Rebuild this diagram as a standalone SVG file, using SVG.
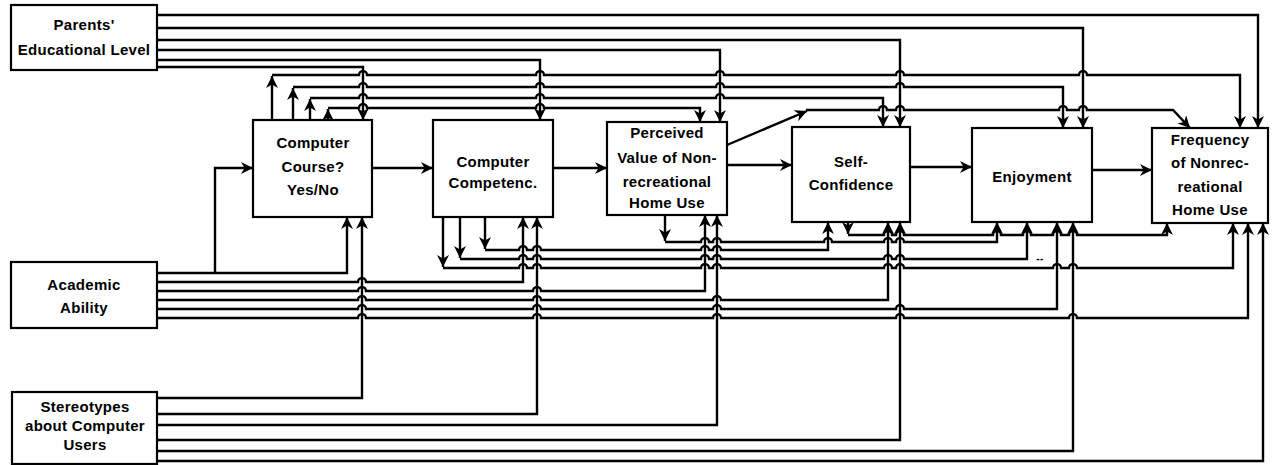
<svg xmlns="http://www.w3.org/2000/svg" width="1275" height="465" viewBox="0 0 1275 465">
<style>
.box{fill:#fff;stroke:#000;stroke-width:2.2}
.t{font-family:"Liberation Sans",Arial,sans-serif;font-size:15px;font-weight:bold;letter-spacing:0.3px;text-anchor:middle;fill:#000}
.c{fill:none;stroke:#000;stroke-width:2.4;stroke-linejoin:miter}
.a{marker-end:url(#ah)}
</style>
<defs>
<marker id="ah" markerUnits="userSpaceOnUse" markerWidth="12" markerHeight="12" refX="10" refY="5" orient="auto" viewBox="0 0 10 10">
<path d="M0,0 L10,5 L0,10 L3,5 z" fill="#000"/>
</marker>
</defs>
<rect width="1275" height="465" fill="#fff"/>
<g id="connectors">
<!-- main chain -->
<path class="c a" d="M372,168 L433,168"/>
<path class="c a" d="M553,168 L607,168"/>
<path class="c a" d="M727,165 L792,165"/>
<path class="c a" d="M910,167 L972,167"/>
<path class="c a" d="M1092,170 L1152,170"/>
<!-- parents -->
<path class="c a" d="M157,15 L1258,15 L1258,128"/>
<path class="c a" d="M157,28 L1083,28 L1083,128"/>
<path class="c a" d="M157,40 L900,40 L900,127"/>
<path class="c a" d="M157,50 L720,50 L720,122"/>
<path class="c a" d="M157,60 L540,60 L540,120"/>
<path class="c a" d="M157,67 L363,67 L363,120"/>
<!-- computer course over the top -->
<path class="c a" d="M272,120 L272,76"/>
<path class="c a" d="M272,75 L359,75 A4,4 0 0 1 367,75 L536,75 A4,4 0 0 1 544,75 L716,75 A4,4 0 0 1 724,75 L896,75 A4,4 0 0 1 904,75 L1079,75 A4,4 0 0 1 1087,75 L1240,75 L1240,128"/>
<path class="c a" d="M293,120 L293,88"/>
<path class="c a" d="M293,87 L359,87 A4,4 0 0 1 367,87 L536,87 A4,4 0 0 1 544,87 L716,87 A4,4 0 0 1 724,87 L896,87 A4,4 0 0 1 904,87 L1063,87 L1063,128"/>
<path class="c a" d="M310,120 L310,99"/>
<path class="c a" d="M310,98 L359,98 A4,4 0 0 1 367,98 L536,98 A4,4 0 0 1 544,98 L716,98 A4,4 0 0 1 724,98 L883,98 L883,127"/>
<path class="c a" d="M328,120 L328,109"/>
<path class="c a" d="M328,108 L359,108 A4,4 0 0 1 367,108 L536,108 A4,4 0 0 1 544,108 L700,108 L700,122"/>
<!-- perceived value to frequency over the top -->
<path class="c a" d="M727,145 L807,111"/>
<path class="c a" d="M806,110 L879,110 A4,4 0 0 1 887,110 L896,110 A4,4 0 0 1 904,110 L1059,110 A4,4 0 0 1 1067,110 L1079,110 A4,4 0 0 1 1087,110 L1173,110 L1190,128"/>
<!-- academic ability -->
<path class="c a" d="M157,273 L347,273 L347,217"/>
<path class="c a" d="M215,273 L215,168 L253,168"/>
<path class="c a" d="M157,282 L358,282 A4,4 0 0 1 366,282 L523,282 L523,217"/>
<path class="c a" d="M157,291 L358,291 A4,4 0 0 1 366,291 L533,291 A4,4 0 0 1 541,291 L705,291 L705,215"/>
<path class="c a" d="M157,300 L358,300 A4,4 0 0 1 366,300 L533,300 A4,4 0 0 1 541,300 L713,300 A4,4 0 0 1 721,300 L888,300 L888,222"/>
<path class="c a" d="M157,309 L358,309 A4,4 0 0 1 366,309 L533,309 A4,4 0 0 1 541,309 L713,309 A4,4 0 0 1 721,309 L896,309 A4,4 0 0 1 904,309 L1057,309 L1057,222"/>
<path class="c a" d="M157,318 L358,318 A4,4 0 0 1 366,318 L533,318 A4,4 0 0 1 541,318 L713,318 A4,4 0 0 1 721,318 L896,318 A4,4 0 0 1 904,318 L1069,318 A4,4 0 0 1 1077,318 L1248,318 L1248,223"/>
<!-- computer competence under -->
<path class="c a" d="M443,217 L443,267"/>
<path class="c a" d="M443,268 L519,268 A4,4 0 0 1 527,268 L533,268 A4,4 0 0 1 541,268 L701,268 A4,4 0 0 1 709,268 L713,268 A4,4 0 0 1 721,268 L884,268 A4,4 0 0 1 892,268 L896,268 A4,4 0 0 1 904,268 L1053,268 A4,4 0 0 1 1061,268 L1069,268 A4,4 0 0 1 1077,268 L1233,268 L1233,223"/>
<path class="c a" d="M460,217 L460,258"/>
<path class="c a" d="M460,259 L519,259 A4,4 0 0 1 527,259 L533,259 A4,4 0 0 1 541,259 L701,259 A4,4 0 0 1 709,259 L713,259 A4,4 0 0 1 721,259 L884,259 A4,4 0 0 1 892,259 L896,259 A4,4 0 0 1 904,259 L1027,259 L1027,222"/>
<path class="c a" d="M485,217 L485,249"/>
<path class="c a" d="M485,250 L519,250 A4,4 0 0 1 527,250 L533,250 A4,4 0 0 1 541,250 L701,250 A4,4 0 0 1 709,250 L713,250 A4,4 0 0 1 721,250 L828,250 L828,222"/>
<!-- perceived value under -->
<path class="c a" d="M665,215 L665,241"/>
<path class="c a" d="M665,242 L701,242 A4,4 0 0 1 709,242 L713,242 A4,4 0 0 1 721,242 L824,242 A4,4 0 0 1 832,242 L884,242 A4,4 0 0 1 892,242 L896,242 A4,4 0 0 1 904,242 L997,242 L997,222"/>
<!-- self-confidence under -->
<path class="c a" d="M848,222 L848,234"/>
<path class="c a" d="M848,235 L884,235 A4,4 0 0 1 892,235 L896,235 A4,4 0 0 1 904,235 L993,235 A4,4 0 0 1 1001,235 L1023,235 A4,4 0 0 1 1031,235 L1053,235 A4,4 0 0 1 1061,235 L1069,235 A4,4 0 0 1 1077,235 L1167,235 L1167,223"/>
<!-- stereotypes -->
<path class="c a" d="M157,398 L362,398 L362,217"/>
<path class="c a" d="M157,414 L537,414 L537,217"/>
<path class="c a" d="M157,425 L717,425 L717,215"/>
<path class="c a" d="M157,440 L900,440 L900,222"/>
<path class="c a" d="M157,451 L1073,451 L1073,222"/>
<path class="c a" d="M157,461 L1263,461 L1263,223"/>
</g>
<text class="t" x="1040" y="262" style="font-size:10px">--</text>
<g id="parents">
<rect class="box" x="11" y="5" width="146" height="65"/>
<text class="t" x="84" y="30">Parents'</text>
<text class="t" x="84" y="55">Educational Level</text>
</g>
<g id="academic">
<rect class="box" x="11" y="262" width="146" height="66"/>
<text class="t" x="84" y="290">Academic</text>
<text class="t" x="84" y="313">Ability</text>
</g>
<g id="stereotypes">
<rect class="box" x="12" y="392" width="145" height="72"/>
<text class="t" x="85" y="412">Stereotypes</text>
<text class="t" x="85" y="431">about Computer</text>
<text class="t" x="85" y="450">Users</text>
</g>
<g id="course">
<rect class="box" x="253" y="120" width="119" height="97"/>
<text class="t" x="313" y="148">Computer</text>
<text class="t" x="313" y="172">Course?</text>
<text class="t" x="313" y="195">Yes/No</text>
</g>
<g id="competence">
<rect class="box" x="433" y="120" width="120" height="97"/>
<text class="t" x="493" y="167">Computer</text>
<text class="t" x="493" y="188">Competenc.</text>
</g>
<g id="perceived">
<rect class="box" x="607" y="122" width="120" height="93"/>
<text class="t" x="667" y="138">Perceived</text>
<text class="t" x="667" y="163">Value of Non-</text>
<text class="t" x="667" y="187">recreational</text>
<text class="t" x="667" y="208">Home Use</text>
</g>
<g id="confidence">
<rect class="box" x="792" y="127" width="118" height="95"/>
<text class="t" x="851" y="167">Self-</text>
<text class="t" x="851" y="190">Confidence</text>
</g>
<g id="enjoyment">
<rect class="box" x="972" y="128" width="120" height="94"/>
<text class="t" x="1032" y="182">Enjoyment</text>
</g>
<g id="frequency">
<rect class="box" x="1152" y="128" width="116" height="95"/>
<text class="t" x="1210" y="145">Frequency</text>
<text class="t" x="1210" y="168">of Nonrec-</text>
<text class="t" x="1210" y="192">reational</text>
<text class="t" x="1210" y="215">Home Use</text>
</g>
</svg>
